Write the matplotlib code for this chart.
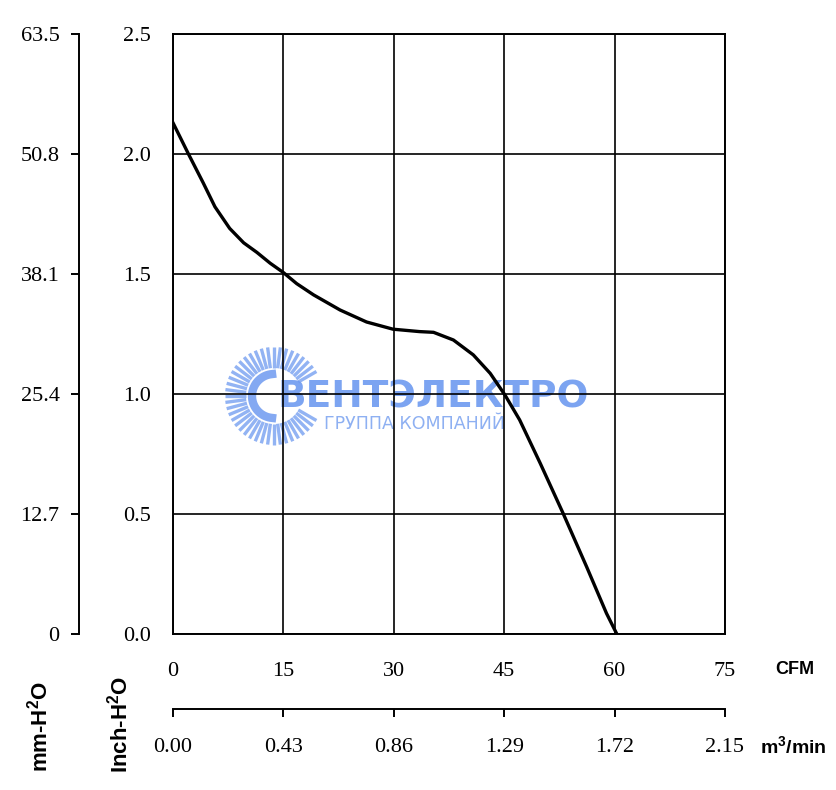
import numpy as np
import matplotlib
matplotlib.use("Agg")
import matplotlib.pyplot as plt

# --- Data ---
cfm = [0.0, 2.1, 4.1, 5.7, 7.7, 9.6, 11.4, 13.2, 15.0, 16.8, 19.1, 22.7,
       26.3, 29.9, 33.5, 35.4, 38.1, 40.8, 43.1, 45.1, 47.1, 49.9, 53.0,
       56.2, 58.9, 60.3]
pressure_inch = [2.13, 2.00, 1.88, 1.78, 1.69, 1.63, 1.59, 1.545, 1.506,
                 1.46, 1.413, 1.35, 1.30, 1.27, 1.26, 1.257, 1.225, 1.163,
                 1.086, 0.996, 0.892, 0.711, 0.503, 0.28, 0.086, 0.0]

cfm_ticks = [0, 15, 30, 45, 60, 75]
m3_ticks = [0.00, 0.43, 0.86, 1.29, 1.72, 2.15]
inch_ticks = [0.0, 0.5, 1.0, 1.5, 2.0, 2.5]
mm_ticks = [0, 12.7, 25.4, 38.1, 50.8, 63.5]
mm_labels = ["0", "12.7", "25.4", "38.1", "50.8", "63.5"]

SERIF = "Liberation Serif"
SANS = "Liberation Sans"
WM_BLUE = "#6e9af0"
TICK_SIZE = 16

plt.rcParams["mathtext.fontset"] = "custom"
plt.rcParams["mathtext.rm"] = SANS
plt.rcParams["mathtext.bf"] = "Liberation Sans:bold"

fig = plt.figure(figsize=(8.37, 7.9), dpi=100)
ax = fig.add_axes([173 / 837, 156 / 790, 552 / 837, 600 / 790])

ax.set_xlim(0, 75)
ax.set_ylim(0, 2.5)
ax.set_xticks(cfm_ticks)
ax.set_xticklabels([str(t) for t in cfm_ticks])
ax.set_yticks(inch_ticks)
ax.set_yticklabels([f"{t:.1f}" for t in inch_ticks])
ax.tick_params(axis="x", length=0, pad=20, labelsize=TICK_SIZE)
ax.tick_params(axis="y", length=0, pad=16, labelsize=TICK_SIZE)
for lab in ax.get_xticklabels() + ax.get_yticklabels():
    lab.set_fontfamily(SERIF)
ax.grid(True, color="black", linewidth=1.2)
for sp in ax.spines.values():
    sp.set_linewidth(1.4)

# --- Watermark (behind the curve) ---
ov = fig.add_axes([0, 0, 1, 1], zorder=0.5)
ov.set_xlim(0, 837)
ov.set_ylim(790, 0)
ov.axis("off")
ov.patch.set_alpha(0)
cx, cy = 274, 396
for ang in np.arange(30, 335, 7.5):
    a = np.radians(ang)
    ov.plot([cx + 28 * np.cos(a), cx + 49 * np.cos(a)],
            [cy - 28 * np.sin(a), cy - 49 * np.sin(a)],
            color=WM_BLUE, lw=2.4, alpha=0.75, solid_capstyle="butt")
th = np.radians(np.linspace(95, 265, 40))
ov.plot(cx + 22 * np.cos(th), cy - 22 * np.sin(th), color=WM_BLUE,
        lw=6, alpha=0.85)
ov.text(433, 397, "ВЕНТЭЛЕКТРО", fontsize=27, fontweight="bold",
        family="DejaVu Sans", color=WM_BLUE, ha="center", va="center",
        alpha=0.9)
ov.text(415, 424, "ГРУППА КОМПАНИЙ", fontsize=12.5, family="DejaVu Sans",
        color="#8eb0f2", ha="center", va="center")

ax.set_zorder(1)
ax.patch.set_alpha(0)
ax.plot(cfm, pressure_inch, color="black", linewidth=2.4, zorder=5)

# --- Secondary axes ---
sec_x = ax.secondary_xaxis(-0.125, functions=(lambda x: x * 2.15 / 75,
                                              lambda m: m * 75 / 2.15))
sec_x.set_xticks(m3_ticks)
sec_x.set_xticklabels([f"{t:.2f}" for t in m3_ticks])
sec_x.tick_params(length=6, width=1.4, pad=15, labelsize=TICK_SIZE)
sec_x.spines["bottom"].set_linewidth(1.4)
for lab in sec_x.get_xticklabels():
    lab.set_fontfamily(SERIF)

sec_y = ax.secondary_yaxis(-94 / 552, functions=(lambda y: y * 25.4,
                                                 lambda m: m / 25.4))
sec_y.set_yticks(mm_ticks)
sec_y.set_yticklabels(mm_labels)
sec_y.tick_params(length=6, width=1.4, pad=8, labelsize=TICK_SIZE)
sec_y.spines["left"].set_linewidth(1.4)
for lab in sec_y.get_yticklabels():
    lab.set_fontfamily(SERIF)

# --- Unit labels ---
fig.text(795 / 837, 1 - 669 / 790, "CFM", fontsize=13, fontweight="bold",
         family=SANS, ha="center", va="center")
fig.text(793 / 837, 1 - 747 / 790, r"m$^{\mathbf{3}}$/min", fontsize=14,
         fontweight="bold", family=SANS, ha="center", va="center")
fig.text(40 / 837, 1 - 727 / 790, r"mm-H$^{\mathbf{2}}$O", fontsize=16,
         fontweight="bold", family=SANS, ha="center", va="center",
         rotation=90)
fig.text(120 / 837, 1 - 724 / 790, r"Inch-H$^{\mathbf{2}}$O", fontsize=16,
         fontweight="bold", family=SANS, ha="center", va="center",
         rotation=90)

fig.savefig("out.png", dpi=100)
